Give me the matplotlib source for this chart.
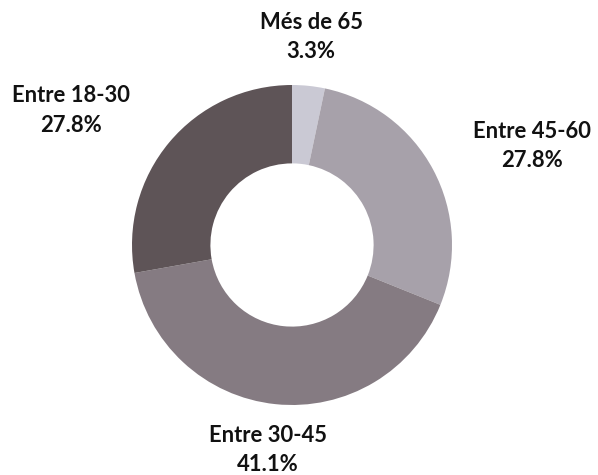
import matplotlib
matplotlib.use("Agg")
import matplotlib.pyplot as plt

labels = ["Més de 65", "Entre 45-60", "Entre 30-45", "Entre 18-30"]
values = [3.3, 27.8, 41.1, 27.8]
colors = ["#cac9d4", "#a7a1aa", "#857b82", "#5e5457"]
# label anchor points (radius = 1)
label_pos = [(0.12, 1.30), (1.50, 0.62), (-0.15, -1.28), (-1.38, 0.84)]

plt.rcParams['font.family'] = ['Lato', 'DejaVu Sans']

fig = plt.figure(figsize=(5.98, 4.75), dpi=100)
ax = fig.add_axes([0, 0, 1, 1])

ax.pie(values, colors=colors, startangle=90, counterclock=False,
       radius=1.0, wedgeprops=dict(width=0.49, linewidth=0))

for lab, val, (x, y) in zip(labels, values, label_pos):
    ax.text(x, y, f"{lab}\n{val:.1f}%", ha='center', va='center',
            fontsize=15.8, fontweight='bold', color='#111111', linespacing=1.5)

ax.set_xlim(-292 / 160, (598 - 292) / 160)
ax.set_ylim(-(475 - 245) / 160, 245 / 160)
ax.set_aspect('auto')
ax.axis('off')

fig.savefig("out.png", dpi=100)
